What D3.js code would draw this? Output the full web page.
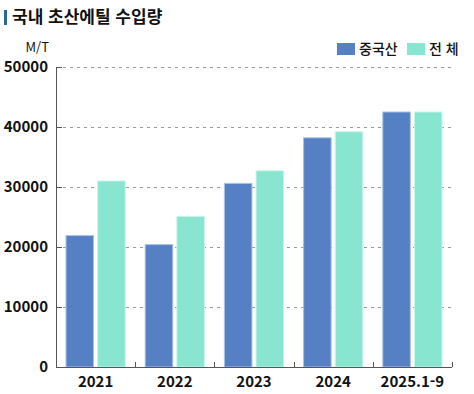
<!DOCTYPE html>
<html lang="ko">
<head>
    <meta charset="UTF-8">
    <title>국내 초산에틸 수입량</title>
    <script src="https://cdnjs.cloudflare.com/ajax/libs/d3/7.8.5/d3.min.js"></script>
    <style>
        body { margin: 0; background: #fff; }
        svg text { font-family: "Noto Sans CJK KR", "Noto Sans", sans-serif; fill: #111; }
        .title { font-size: 17px; font-weight: 700; }
        .axis text { font-size: 15px; font-weight: 600; }
        .axis path, .axis line { stroke: #555; shape-rendering: crispEdges; }
        .grid line { stroke: #999; stroke-dasharray: 3 4; shape-rendering: crispEdges; }
        .legend text { font-size: 14px; font-weight: 500; }
    </style>
</head>
<body>
<svg class="chart" width="474" height="394"></svg>
<script>
    const categories = ['2021', '2022', '2023', '2024', '2025.1-9'];
    const seriesNames = ['중국산', '전 체'];
    const china = [21900, 20400, 30600, 38200, 42500];
    const total = [31000, 25100, 32700, 39200, 42500];
    const yTicks = [0, 10000, 20000, 30000, 40000, 50000];
    const colors = ['#5580c4', '#88e5d0'];
    const strokes = ['#a7c1ea', '#c8f4ea'];

    const margin = {top: 67, right: 22, bottom: 27, left: 56};
    const width = 474 - margin.left - margin.right;
    const height = 394 - margin.top - margin.bottom;

    const svg = d3.select('.chart');

    // title
    svg.append('rect').attr('x', 4).attr('y', 10).attr('width', 3).attr('height', 15).attr('fill', '#2a6a8c');
    svg.append('text').attr('class', 'title').attr('x', 12).attr('y', 23).text('국내 초산에틸 수입량');

    const chart = svg.append('g').attr('transform', `translate(${margin.left}, ${margin.top})`);

    const x = d3.scaleBand().domain(categories).range([0, width]);
    const x1 = d3.scaleBand().domain(seriesNames).range([10, x.bandwidth() - 10]).paddingInner(0.13);
    const y = d3.scaleLinear().domain([0, 50000]).range([height, 0]);

    // grid
    chart.append('g').attr('class', 'grid')
        .selectAll('line').data(yTicks.slice(1)).enter().append('line')
        .attr('x1', 0).attr('x2', width)
        .attr('y1', d => Math.round(y(d)) + 0.5).attr('y2', d => Math.round(y(d)) + 0.5);

    const data = categories.map((c, i) => ({cat: c, vals: [china[i], total[i]]}));
    const group = chart.selectAll('.cat').data(data).enter().append('g')
        .attr('transform', d => `translate(${x(d.cat)}, 0)`);
    group.selectAll('rect').data(d => d.vals.map((v, j) => ({name: seriesNames[j], v: v, j: j})))
        .enter().append('rect')
        .attr('x', d => x1(d.name))
        .attr('width', x1.bandwidth())
        .attr('y', d => y(d.v))
        .attr('height', d => height - y(d.v))
        .attr('fill', d => colors[d.j])
        .attr('stroke', d => strokes[d.j])
        .attr('stroke-width', 1);

    // axes
    const yAxis = d3.axisLeft(y).tickValues(yTicks).tickSize(-6).tickPadding(8).tickFormat(d3.format('d'));
    chart.append('g').attr('class', 'axis y').call(yAxis);

    const xAxis = d3.axisBottom(d3.scaleLinear().domain([0, 5]).range([0, width]))
        .tickValues([1, 2, 3, 4, 5]).tickSize(-5).tickFormat('');
    chart.append('g').attr('class', 'axis x').attr('transform', `translate(0, ${height})`).call(xAxis)
        .call(g => g.select('.domain').attr('d', `M0.5,0H${width}`));
    chart.append('g').attr('class', 'axis')
        .selectAll('text').data(categories).enter().append('text')
        .attr('x', d => x(d) + x.bandwidth() / 2)
        .attr('y', height + 20)
        .attr('text-anchor', 'middle')
        .text(d => d);

    svg.append('text').attr('x', 49).attr('y', 52).attr('text-anchor', 'end')
        .style('font-size', '13px').text('M/T');

    // legend
    const legend = svg.append('g').attr('class', 'legend');
    const legX = [337, 407];
    seriesNames.forEach((n, i) => {
        legend.append('rect').attr('x', legX[i]).attr('y', 43).attr('width', 18).attr('height', 12).attr('fill', colors[i]);
        legend.append('text').attr('x', legX[i] + 22).attr('y', 54).text(n);
    });
</script>
</body>
</html>
